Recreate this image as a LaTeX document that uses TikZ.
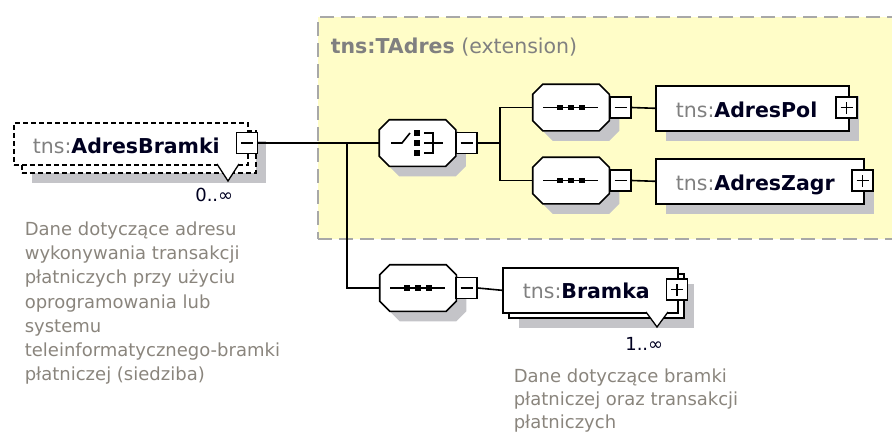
\documentclass[tikz,border=0pt]{standalone}
\usepackage{fontspec}
\setmainfont{DejaVu Sans}
\usetikzlibrary{shadows}

\definecolor{extyellow}{HTML}{FFFDC8}
\definecolor{extgray}{HTML}{A8A8A8}
\definecolor{shadowgray}{HTML}{C4C4C8}
\definecolor{tnsgray}{HTML}{808080}
\definecolor{descgray}{HTML}{8A857D}
\definecolor{namecol}{HTML}{000020}

\newcommand\elemfont{\fontsize{20.5}{24}\selectfont}
\newcommand\descfont{\fontsize{18}{24.2}\selectfont}
\newcommand\occfont{\fontsize{18}{20}\selectfont}
\newcommand\tns{\textcolor{tnsgray}{tns:}}

\begin{document}
\begin{tikzpicture}[x=1pt, y=-1pt, line width=1.6pt,
    shade/.style={drop shadow={shadow xshift=10pt, shadow yshift=-10pt, fill=shadowgray, opacity=1}},
    elem/.style={draw, fill=white, rectangle, minimum height=45pt, inner sep=0pt, anchor=north west},
    optelem/.style={elem, dash pattern=on 5pt off 3pt},
    nametext/.style={anchor=base west, inner sep=0pt, font=\elemfont, text=namecol},
    compositor/.style={rectangle, minimum width=75pt, minimum height=45pt, inner sep=0pt},
    pmbox/.style={draw, fill=white, rectangle, minimum size=21pt, inner sep=0pt},
    minusbox/.style={pmbox, path picture={
      \draw ([xshift=-6pt]path picture bounding box.center) -- ([xshift=6pt]path picture bounding box.center);}},
    plusbox/.style={pmbox, path picture={
      \draw ([xshift=-6pt]path picture bounding box.center) -- ([xshift=6pt]path picture bounding box.center);
      \draw ([yshift=-6pt]path picture bounding box.center) -- ([yshift=6pt]path picture bounding box.center);}},
    occtext/.style={anchor=base east, inner sep=0pt, font=\occfont, text=namecol},
    desctext/.style={anchor=north west, inner sep=0pt, align=left, font=\descfont, text=descgray},
    multi/.style={draw, fill=white, line width=1.3pt}]
  \useasboundingbox (0,0) rectangle (892,432);

  % extension area
  \node [draw=extgray, fill=extyellow, dash pattern=on 14pt off 7pt, line width=2pt,
    minimum width=590pt, minimum height=222pt, anchor=north west, inner sep=0pt] (tadres) at (317,16) {};
  \node [anchor=base west, inner sep=0pt, font=\elemfont, text=tnsgray] (tadres-t) at (330,53)
    {\textbf{tns:TAdres} (extension)};

  % root element
  \node [optelem, shade, minimum width=234pt, minimum height=42pt] (bramki-back) at (21,130) {};
  \node [optelem, minimum width=234pt, minimum height=42pt] (bramki) at (13,122) {};
  \node [nametext] (bramki-t) at (32,153) {\tns\textbf{AdresBramki}};
  \node [minusbox] (bramki-m) at (247,143) {};
  \draw [multi] (217,164) -- (228,181) -- (239,164);
  \node [occtext] (bramki-occ) at (234,201) {0..∞};
  \node [desctext] (bramki-d) at (24,221) {Dane dotyczące adresu\\wykonywania transakcji\\płatniczych przy użyciu\\oprogramowania lub\\systemu\\teleinformatycznego-bramki\\płatniczej (siedziba)};

  % compositors
  \node [compositor] (choice) at (417.5,143) {};
  \node [compositor] (seqpol) at (571,107.5) {};
  \node [compositor] (seqzagr) at (571,180.5) {};
  \node [compositor] (seqbramka) at (418,288) {};
  \foreach \n in {choice,seqpol,seqzagr,seqbramka}
    \draw [fill=white, shade] ([xshift=10pt]\n.north west) -- ([xshift=-10pt]\n.north east)
      -- ([yshift=-10pt]\n.north east) -- ([yshift=10pt]\n.south east)
      -- ([xshift=-10pt]\n.south east) -- ([xshift=10pt]\n.south west)
      -- ([yshift=10pt]\n.south west) -- ([yshift=-10pt]\n.north west) -- cycle;
  \foreach \n in {seqpol,seqzagr,seqbramka} {
    \draw ([xshift=-28pt]\n.center) -- ([xshift=27pt]\n.center);
    \foreach \d in {-11,0,11}
      \fill ([xshift=\d pt]\n.center) +(-2.7pt,-2.7pt) rectangle +(2.7pt,2.7pt);
  }
  \begin{scope}[shift={(choice.center)}]
    \draw (-26.5,0) -- (-15.5,0) -- (-7.5,-10);
    \foreach \d in {-10,0,10}
      \fill (-0.5,\d) +(-2.7,-2.7) rectangle +(2.7,2.7);
    \draw (6.5,-10) -- (15.5,-10) -- (15.5,10) -- (6.5,10);
    \draw (6.5,0) -- (25.5,0);
  \end{scope}
  \node [minusbox] (choice-m) at (466.5,143) {};
  \node [minusbox] (seqpol-m) at (620.5,107.5) {};
  \node [minusbox] (seqzagr-m) at (620.5,180.5) {};
  \node [minusbox] (seqbramka-m) at (466.5,288) {};

  % elements inside the extension
  \node [elem, shade, minimum width=193pt] (adrespol) at (655,85) {};
  \node [nametext] (adrespol-t) at (675,117) {\tns\textbf{AdresPol}};
  \node [plusbox] (adrespol-p) at (846.5,107.5) {};

  \node [elem, shade, minimum width=208pt] (adreszagr) at (655,158) {};
  \node [nametext] (adreszagr-t) at (675,190) {\tns\textbf{AdresZagr}};
  \node [plusbox] (adreszagr-p) at (862.5,180.5) {};

  % element below
  \node [elem, shade, minimum width=175pt, minimum height=44pt] (bramka-back) at (508,273) {};
  \node [elem, minimum width=175pt] (bramka) at (502,267) {};
  \node [nametext] (bramka-t) at (522,298) {\tns\textbf{Bramka}};
  \node [plusbox] (bramka-p) at (677,289.5) {};
  \draw [multi] (646,312) -- (657,327) -- (668,312);
  \node [occtext] (bramka-occ) at (664,350) {1..∞};
  \node [desctext, font=\fontsize{18}{22.8}\selectfont] (bramka-d) at (513,368)
    {Dane dotyczące bramki\\płatniczej oraz transakcji\\płatniczych};

  % connectors
  \coordinate (j1) at (347,143);
  \coordinate (j2) at (500,143);
  \draw (bramki-m.east) -- (choice.west);
  \draw (j1) |- (seqbramka.west);
  \draw (choice-m.east) -- (j2);
  \draw (j2) |- (seqpol.west);
  \draw (j2) |- (seqzagr.west);
  \draw (seqpol-m.east) -- (adrespol.west);
  \draw (seqzagr-m.east) -- (adreszagr.west);
  \draw (seqbramka-m.east) -- (bramka.west);
\end{tikzpicture}
\end{document}
